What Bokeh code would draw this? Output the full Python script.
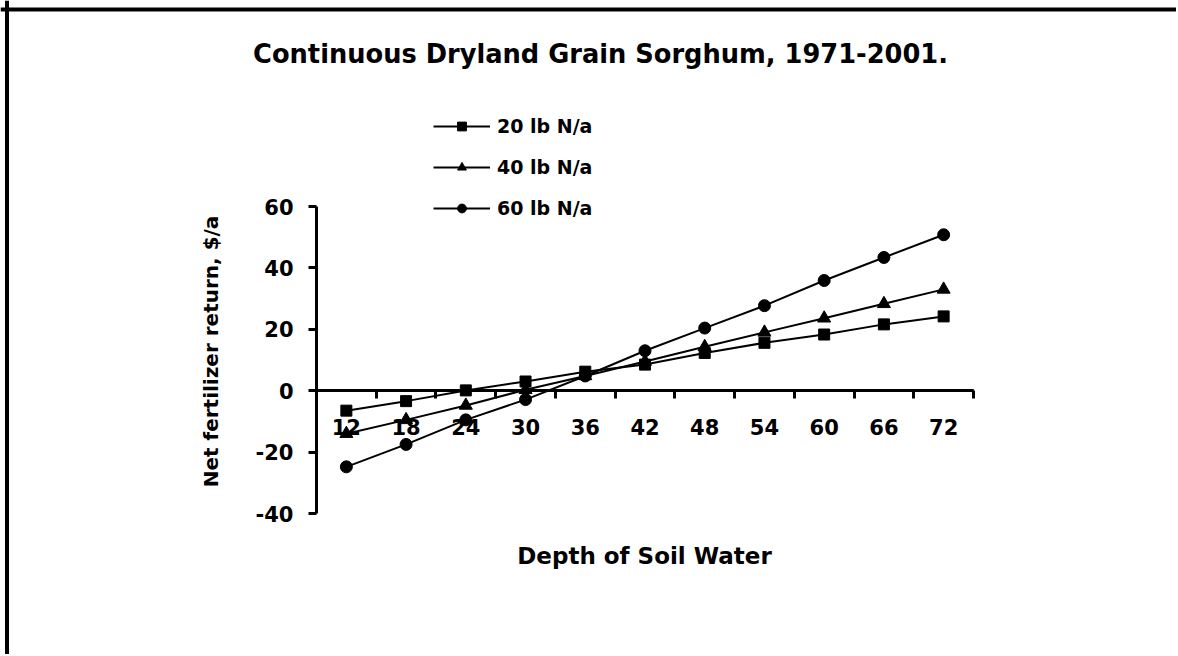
import math
from bokeh.plotting import figure
from bokeh.models import (Range1d, LinearAxis, FixedTicker, Legend, LegendItem, Label, Span)
from bokeh.embed import file_html
from bokeh.resources import INLINE

# ---- data ----
depth_labels = ["12", "18", "24", "30", "36", "42", "48", "54", "60", "66", "72"]
n20 = [-6.5, -3.4, 0.1, 3.0, 6.2, 8.5, 12.3, 15.6, 18.3, 21.6, 24.2]
n40 = [-14.0, -9.5, -4.8, 0.3, 4.8, 9.5, 14.3, 19.0, 23.6, 28.3, 33.0]
n60 = [-24.8, -17.5, -9.5, -2.9, 4.8, 13.0, 20.4, 27.7, 35.9, 43.4, 50.8]
series_names = ["20 lb N/a", "40 lb N/a", "60 lb N/a"]
y_ticks = [-40, -20, 0, 20, 40, 60]
y_tick_labels = ["-40", "-20", "0", "20", "40", "60"]
title_text = "Continuous Dryland Grain Sorghum, 1971-2001."
x_title = "Depth of Soil Water"
y_title = "Net fertilizer return, $/a"

# category slots: each depth sits in the middle of its slot
ncat = len(depth_labels)
xpos = [i + 0.5 for i in range(ncat)]

# ---- layout (page pixels) ----
FONT = "DejaVu Sans"
W, H = 1176, 654
AX_L, AX_R = 316, 973          # plot area left/right (slot 0 .. slot ncat)
AX_T, AX_B = 206, 513          # y = 60 .. y = -40
SX = (AX_R - AX_L) / ncat
SY = (AX_B - AX_T) / (y_ticks[-1] - y_ticks[0])
Y0 = AX_T + y_ticks[-1] * SY


def px_x(px):
    return (px - AX_L) / SX


def px_y(py):
    return (Y0 - py) / SY


p = figure(width=W, height=H,
           x_range=Range1d(px_x(0), px_x(W)),
           y_range=Range1d(px_y(H), px_y(0)),
           x_axis_type=None, y_axis_type=None, title_location=None,
           output_backend="svg", toolbar_location=None,
           min_border=0, min_border_left=0, min_border_right=0,
           min_border_top=0, min_border_bottom=0,
           background_fill_color="white", border_fill_color="white")
p.outline_line_color = None

# outer border (top and left edges visible)
p.add_layout(Span(location=px_x(6.5), dimension="height", line_color="black", line_width=4))
p.add_layout(Span(location=px_y(9), dimension="width", line_color="black", line_width=4))

# y axis
yax = LinearAxis(ticker=FixedTicker(ticks=y_ticks), fixed_location=0,
                 bounds=(y_ticks[0], y_ticks[-1]),
                 major_label_overrides={t: s for t, s in zip(y_ticks, y_tick_labels)})
yax.axis_line_width = 3
yax.major_tick_line_width = 3
yax.major_tick_out = 8
yax.major_tick_in = 0
yax.minor_tick_line_color = None
yax.major_label_standoff = 15
yax.major_label_text_font = FONT
yax.major_label_text_font_style = "bold"
yax.major_label_text_font_size = "21px"
yax.major_label_text_color = "black"
p.add_layout(yax, "left")

# x axis: boundary ticks between categories
xt = LinearAxis(ticker=FixedTicker(ticks=list(range(ncat + 1))), fixed_location=0,
                bounds=(0, ncat))
xt.axis_line_width = 3
xt.major_tick_line_width = 3
xt.major_tick_out = 8
xt.major_tick_in = 0
xt.minor_tick_line_color = None
xt.major_label_text_font_size = "0px"
xt.major_label_text_color = None
p.add_layout(xt, "below")

# x axis: category labels
xl = LinearAxis(ticker=FixedTicker(ticks=xpos), fixed_location=0, bounds=(0, ncat),
                major_label_overrides={x: lab for x, lab in zip(xpos, depth_labels)})
xl.axis_line_width = 3
xl.major_tick_line_color = None
xl.minor_tick_line_color = None
xl.major_tick_out = 0
xl.major_tick_in = 0
xl.major_label_standoff = 28
xl.major_label_text_font = FONT
xl.major_label_text_font_style = "bold"
xl.major_label_text_font_size = "21px"
xl.major_label_text_color = "black"
p.add_layout(xl, "below")

# texts
common = dict(text_font=FONT, text_font_style="bold", text_color="black",
              text_align="center", text_baseline="middle")
p.add_layout(Label(x=px_x(600), y=px_y(53), text=title_text, text_font_size="25.7px", **common))
p.add_layout(Label(x=px_x(644), y=px_y(555), text=x_title, text_font_size="23px", **common))
p.add_layout(Label(x=px_x(210), y=px_y(351), text=y_title, angle=math.pi / 2,
                   text_font_size="20px", **common))

# series
markers = ["square", "triangle", "circle"]
sizes = [11, 13, 12]
lines, points = [], []
for vals in (n20, n40, n60):
    lines.append(p.line(xpos, vals, line_color="black", line_width=2))
for vals, m, s in zip((n20, n40, n60), markers, sizes):
    points.append(p.scatter(xpos, vals, marker=m, size=s,
                            fill_color="black", line_color="black"))

items = [LegendItem(label=n, renderers=[l, r]) for n, l, r in zip(series_names, lines, points)]
legend = Legend(items=items, location=(433, H - 219),
                glyph_width=57, glyph_height=22, label_height=22, spacing=19,
                label_standoff=7, padding=0, margin=0,
                border_line_color=None, background_fill_alpha=0,
                label_text_font=FONT, label_text_font_style="bold",
                label_text_font_size="19px", label_text_color="black")
p.add_layout(legend, "center")

open("out.html", "w").write(file_html(p, INLINE))
